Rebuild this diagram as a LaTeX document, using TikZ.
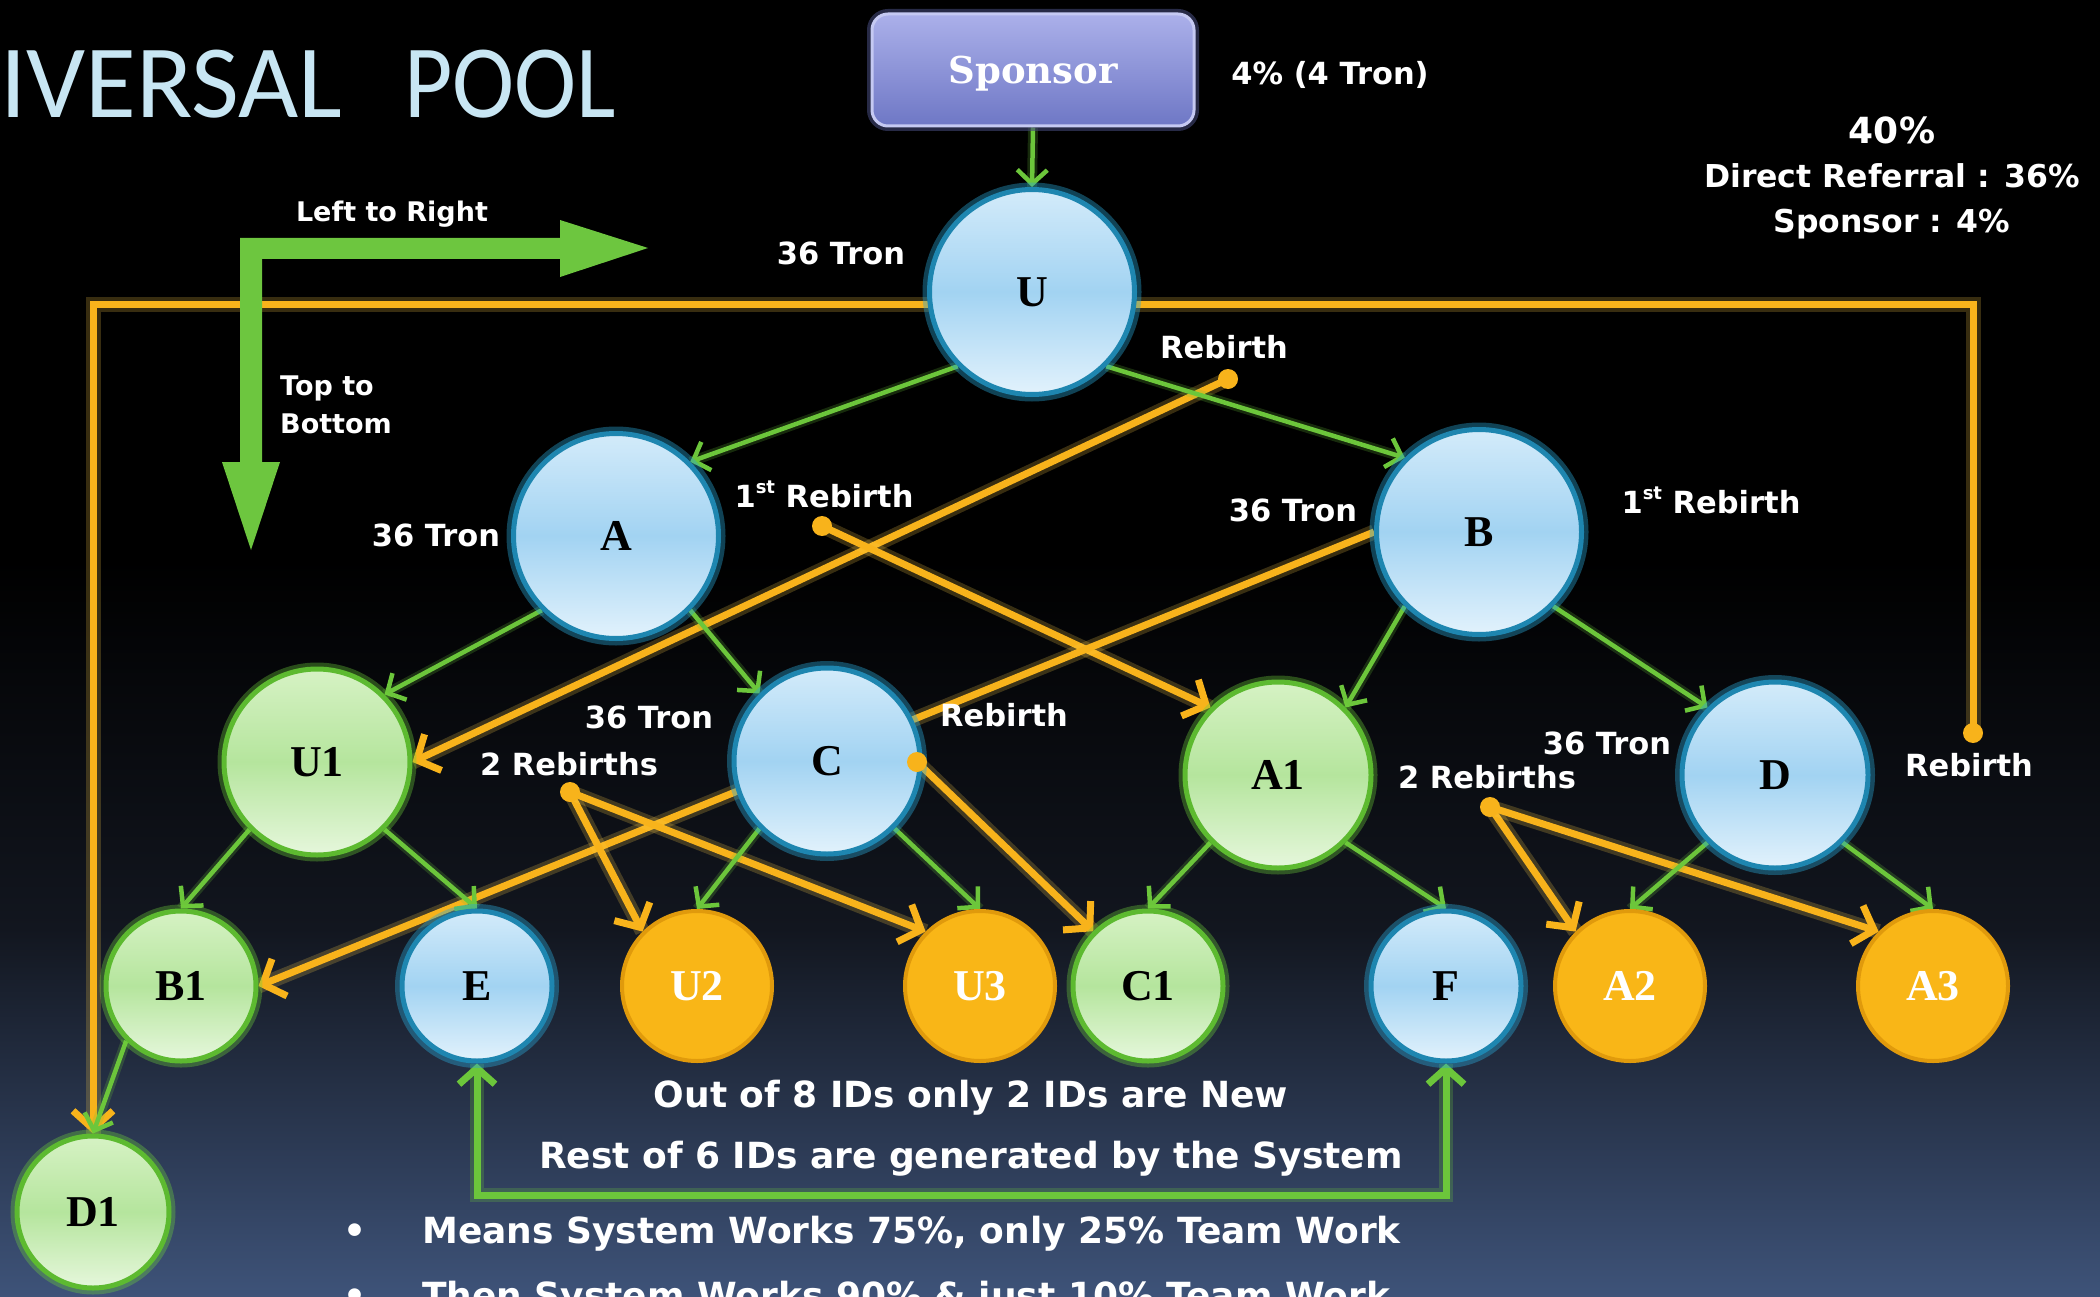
\documentclass[tikz,border=0pt]{standalone}
\usepackage{fontspec}
\usetikzlibrary{arrows.meta}
\newfontfamily\labfont{DejaVu Sans}
\newfontfamily\serfont{Liberation Serif}
\newfontfamily\spfont{DejaVu Serif}
\newfontfamily\titfont{Carlito}
\definecolor{orng}{HTML}{F8B31B}
\definecolor{orgGlow}{HTML}{FFD04A}
\definecolor{bgM}{HTML}{12161F}
\definecolor{bgB}{HTML}{3E5379}
\definecolor{bTop}{HTML}{D3EBFA}
\definecolor{bMid}{HTML}{A2D3F2}
\definecolor{bBot}{HTML}{E2F2FC}
\definecolor{bEdge}{HTML}{1E86B0}
\definecolor{bGlow}{HTML}{2AA7D6}
\definecolor{gTop}{HTML}{D6F2C4}
\definecolor{gMid}{HTML}{B5E59D}
\definecolor{gBot}{HTML}{E6F7DC}
\definecolor{gEdge}{HTML}{5DBA30}
\definecolor{gGlow}{HTML}{6FD23A}
\definecolor{oFill}{HTML}{F9B617}
\definecolor{oEdge}{HTML}{E09A0C}
\definecolor{grn}{HTML}{6CC63B}
\definecolor{spT}{HTML}{ABB0EA}
\definecolor{spB}{HTML}{6E77C5}
\definecolor{spE}{HTML}{C5C9F2}
\definecolor{titC}{HTML}{C8E6F3}
\definecolor{lgreen}{HTML}{6DC63F}
\pgfdeclarelayer{bglayer}
\pgfdeclarelayer{edgelayer}
\pgfsetlayers{bglayer,edgelayer,main}
\newcommand{\supst}[1]{\raisebox{0.45em}{\fontsize{18pt}{18pt}\selectfont #1}}
\begin{document}
\begin{tikzpicture}[x=1pt,y=-1pt,
  lab/.style={anchor=base, inner sep=0pt, text=white, font=\labfont\bfseries\fontsize{30.5pt}{36pt}\selectfont},
  labsm/.style={lab, font=\labfont\bfseries\fontsize{27pt}{32pt}\selectfont},
  labbig/.style={lab, font=\labfont\bfseries\fontsize{36pt}{40pt}\selectfont},
  ndfont/.style={font=\serfont\bfseries\fontsize{44pt}{48pt}\selectfont},
  bnode/.style={circle, inner sep=0pt, ndfont, text=black, draw=bEdge, line width=5pt,
    top color=bTop, bottom color=bBot, middle color=bMid,
    preaction={draw=bGlow, line width=14pt, opacity=.4}},
  gnode/.style={circle, inner sep=0pt, ndfont, text=black, draw=gEdge, line width=5pt,
    top color=gTop, bottom color=gBot, middle color=gMid,
    preaction={draw=gGlow, line width=13pt, opacity=.35}},
  onode/.style={circle, inner sep=0pt, ndfont, text=white, draw=oEdge, line width=4pt, fill=oFill},
  big/.style={minimum size=205pt},
  mid/.style={minimum size=186pt},
  small/.style={minimum size=150pt},
  spbox/.style={rectangle, rounded corners=16pt, minimum width=322pt, minimum height=112pt,
    top color=spT, bottom color=spB, draw=spE, line width=3pt, text=white,
    font=\spfont\bfseries\fontsize{37pt}{40pt}\selectfont, text depth=0pt,
    preaction={draw=spB!60!black, line width=10pt, opacity=.6}},
  garrow/.style={draw=grn, line width=4.5pt, -{Straight Barb[length=14pt,width=30pt]},
    preaction={draw=grn, line width=10pt, opacity=.22, -}},
  gbracket/.style={draw=grn, line width=7pt, line join=miter,
    {Straight Barb[length=16pt,width=36pt]}-{Straight Barb[length=16pt,width=36pt]},
    preaction={draw=grn, line width=14pt, opacity=.25, -}},
  oarrow/.style={draw=orng, line width=7pt, line join=miter, -{Straight Barb[length=18pt,width=40pt]},
    preaction={draw=orgGlow, line width=15pt, opacity=.22, -}},
  odot/.style={fill=orng}
]
\useasboundingbox (0,0) rectangle (2100,1297);
\begin{pgfonlayer}{bglayer}
  \fill[black] (0,0) rectangle (2100,1297);
  \shade[top color=black, bottom color=bgB, middle color=bgM] (0,560) rectangle (2100,1297);
\end{pgfonlayer}

% title
\node[anchor=base west, inner sep=0pt, text=titC, font=\titfont\fontsize{104pt}{110pt}\selectfont] (title) at (0,118) {IVERSAL\hspace*{62pt}\scalebox{0.9}[1]{POOL}};

% nodes
\node[spbox] (sp) at (1033,70) {Sponsor};
\node[bnode, big] (U) at (1032,292) {U};
\node[bnode, big] (A) at (616,536) {A};
\node[bnode, big] (B) at (1479,532) {B};
\node[gnode, mid] (U1) at (317,762) {U1};
\node[bnode, mid] (C) at (827,761) {C};
\node[gnode, mid] (A1) at (1278,775) {A1};
\node[bnode, mid] (D) at (1775,775) {D};
\node[gnode, small] (B1) at (181,986) {B1};
\node[bnode, small] (E) at (477,986) {E};
\node[onode, small] (U2) at (697,986) {U2};
\node[onode, small] (U3) at (980,986) {U3};
\node[gnode, small] (C1) at (1148,986) {C1};
\node[bnode, small] (F) at (1446,986) {F};
\node[onode, small] (A2) at (1630,986) {A2};
\node[onode, small] (A3) at (1933,986) {A3};
\node[gnode, minimum size=152pt] (D1) at (93,1212) {D1};

% rebirth start points
\coordinate (uR) at (1228,379);
\coordinate (aR) at (822,526);
\coordinate (cR) at (917,762);
\coordinate (uuR) at (570,792);
\coordinate (a1R) at (1490,807);
\coordinate (dR) at (1973,733);
\coordinate (tr) at (1973,304);
\coordinate (brk) at (0,1195);

\begin{pgfonlayer}{edgelayer}
  % orange rebirth connectors
  \draw[oarrow] (dR) -- (tr) -- (tr -| D1.north) -- (D1.north);
  \draw[oarrow] (uR) -- (U1.east);
  \draw[oarrow] (aR) -- (A1.north west);
  \draw[oarrow] (B.west) -- (B1.east);
  \draw[oarrow] (cR) -- (C1.north west);
  \draw[oarrow] (uuR) -- (U2.north west);
  \draw[oarrow] (uuR) -- (U3.north west);
  \draw[oarrow] (a1R) -- (A2.north west);
  \draw[oarrow] (a1R) -- (A3.north west);
  % green tree connectors
  \draw[garrow] (sp.south) -- (U.north);
  \draw[garrow] (U.south west) -- (A.north east);
  \draw[garrow] (U.south east) -- (B.north west);
  \draw[garrow] (A.south west) -- (U1.north east);
  \draw[garrow] (A.south east) -- (C.north west);
  \draw[garrow] (B.south west) -- (A1.north east);
  \draw[garrow] (B.south east) -- (D.north west);
  \draw[garrow] (U1.south west) -- (B1.north);
  \draw[garrow] (U1.south east) -- (E.north);
  \draw[garrow] (C.south west) -- (U2.north);
  \draw[garrow] (C.south east) -- (U3.north);
  \draw[garrow] (A1.south west) -- (C1.north);
  \draw[garrow] (A1.south east) -- (F.north);
  \draw[garrow] (D.south west) -- (A2.north);
  \draw[garrow] (D.south east) -- (A3.north);
  \draw[garrow] (B1.south west) -- (D1.north);
  \draw[gbracket] (E.south) -- (E.south |- brk) -- (F.south |- brk) -- (F.south);
\end{pgfonlayer}

% rebirth dots
\foreach \p in {uR,aR,cR,uuR,a1R,dR} \fill[odot] (\p) circle (10);

% direction arrow
\fill[lgreen] (240,238) -- (560,238) -- (560,220) -- (648,248) -- (560,277) -- (560,259)
  -- (262,259) -- (262,462) -- (280,462) -- (251,550) -- (222,462) -- (240,462) -- cycle;
\node[labsm] (lr) at (392,222) {Left to Right};
\node[labsm, anchor=base west] (tb1) at (280,395) {Top to};
\node[labsm, anchor=base west] (tb2) at (280,433) {Bottom};

% labels
\node[lab] (l1) at (1330,85) {4\% (4 Tron)};
\node[lab, font=\labfont\bfseries\fontsize{36pt}{40pt}\selectfont] (l2) at (1892,144) {40\%};
\node[lab, font=\labfont\bfseries\fontsize{31.5pt}{36pt}\selectfont] (l3) at (1892,188) {Direct Referral : 36\%};
\node[lab, font=\labfont\bfseries\fontsize{31.5pt}{36pt}\selectfont] (l4) at (1892,233) {Sponsor : 4\%};
\node[lab] (t1) at (841,265) {36 Tron};
\node[lab] (r1) at (1224,358) {Rebirth};
\node[lab] (t2) at (436,546) {36 Tron};
\node[lab] (r2) at (824,507) {1\supst{st} Rebirth};
\node[lab] (t3) at (1293,521) {36 Tron};
\node[lab] (r3) at (1711,513) {1\supst{st} Rebirth};
\node[lab] (t4) at (649,728) {36 Tron};
\node[lab] (r4) at (569,775) {2 Rebirths};
\node[lab] (r5) at (1004,726) {Rebirth};
\node[lab] (r6) at (1487,788) {2 Rebirths};
\node[lab] (t5) at (1607,754) {36 Tron};
\node[lab] (r7) at (1969,776) {Rebirth};

% bottom texts
\node[labbig] (o1) at (971,1107) {Out of 8 IDs only 2 IDs are New};
\node[labbig] (o2) at (971,1168) {Rest of 6 IDs are generated by the System};
\node[labbig] (bu1) at (355,1243) {\textbullet};
\node[labbig, anchor=base west] (m1) at (422,1243) {Means System Works 75\%, only 25\% Team Work};
\node[labbig] (bu2) at (355,1308) {\textbullet};
\node[labbig, anchor=base west] (m2) at (422,1308) {Then System Works 90\% \& just 10\% Team Work};
\end{tikzpicture}
\end{document}
